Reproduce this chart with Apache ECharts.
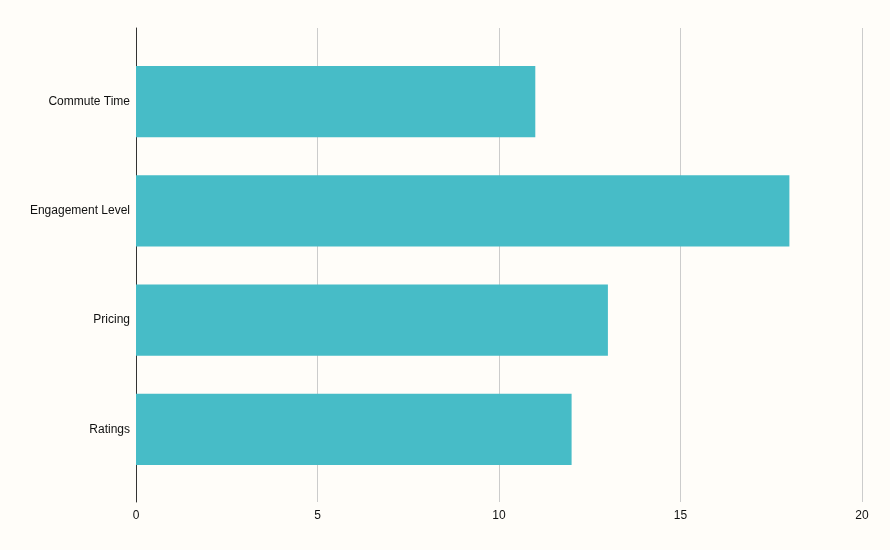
<!DOCTYPE html>
<html>
<head>
<meta charset="utf-8">
<script src="https://cdn.jsdelivr.net/npm/echarts@6/dist/echarts.min.js"></script>
<style>
  html, body { margin: 0; padding: 0; background: #fffdf9; }
  #chart { width: 890px; height: 550px; }
</style>
</head>
<body>
<div id="chart"></div>
<script>
// 数据
const categories = ['Commute Time', 'Engagement Level', 'Pricing', 'Ratings'];
const values = [11, 18, 13, 12];
const xTicks = [0, 5, 10, 15, 20];

const chart = echarts.init(document.getElementById('chart'));
chart.setOption({
  backgroundColor: '#fffdf9',
  animation: false,
  textStyle: { fontFamily: 'Liberation Sans, Arial, sans-serif' },
  grid: [
    // 外框：网格线、坐标轴线、刻度文字
    { left: 136, right: 28, top: 28, bottom: 48 },
    // 内框：柱子（上下留白）
    { left: 136, right: 28, top: 47, bottom: 66 }
  ],
  xAxis: [{
    type: 'value',
    gridIndex: 0,
    min: xTicks[0],
    max: xTicks[xTicks.length - 1],
    interval: 5,
    axisLine: { show: false },
    axisTick: { show: false },
    axisLabel: { color: '#111', fontSize: 12, margin: 8 },
    splitLine: { lineStyle: { color: '#cccccc', width: 1 } }
  }, {
    type: 'value',
    gridIndex: 1,
    min: xTicks[0],
    max: xTicks[xTicks.length - 1],
    interval: 5,
    show: false
  }],
  yAxis: [{
    type: 'value',
    gridIndex: 0,
    axisLine: { show: true, lineStyle: { color: '#333333', width: 1 } },
    axisTick: { show: false },
    axisLabel: { show: false },
    splitLine: { show: false }
  }, {
    type: 'category',
    gridIndex: 1,
    data: categories,
    inverse: true,
    axisLine: { show: false },
    axisTick: { show: false },
    axisLabel: { color: '#111', fontSize: 12, margin: 6 }
  }],
  series: [{
    type: 'bar',
    xAxisIndex: 1,
    yAxisIndex: 1,
    data: values,
    barCategoryGap: '35%',
    itemStyle: { color: '#47bcc7' }
  }]
});
</script>
</body>
</html>
